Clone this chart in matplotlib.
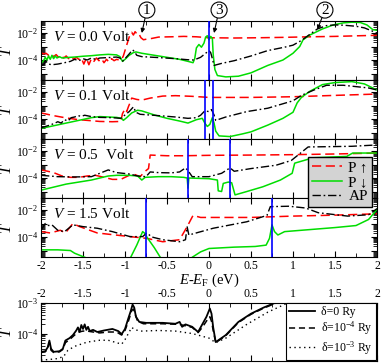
import numpy as np
import matplotlib
matplotlib.use('Agg')
import matplotlib.pyplot as plt
from matplotlib.ticker import LogLocator, FuncFormatter, NullFormatter, MultipleLocator

plt.rcParams['font.family'] = ['Liberation Serif', 'DejaVu Serif']
plt.rcParams['mathtext.fontset'] = 'custom'
plt.rcParams['mathtext.rm'] = 'Liberation Serif'
plt.rcParams['mathtext.it'] = 'Liberation Serif:italic'
plt.rcParams['axes.unicode_minus'] = False

# ---------------- data: (E - E_F [eV], log10 T) ----------------
biases = [0.0, 0.1, 0.5, 1.5]
bias_labels = ["$V$ = 0.0 Volt", "$V$ = 0.1 Volt", "$V$ = 0.5  Volt", "$V$ = 1.5 Volt"]

v00_up = [(-2.00,-3.45),(-1.97,-3.55),(-1.94,-3.50),(-1.91,-3.65),(-1.88,-3.55),(-1.85,-3.75),(-1.82,-3.60),
          (-1.79,-3.80),(-1.76,-3.65),(-1.73,-3.85),(-1.70,-3.70),(-1.67,-3.90),(-1.64,-3.75),(-1.61,-3.95),
          (-1.58,-3.80),(-1.55,-3.95),(-1.52,-3.85),(-1.49,-4.30),(-1.46,-3.85),(-1.43,-4.35),(-1.40,-3.90),
          (-1.37,-4.10),(-1.34,-3.85),(-1.31,-4.05),(-1.28,-3.90),(-1.25,-4.20),(-1.22,-3.95),(-1.19,-4.15),
          (-1.16,-3.90),(-1.13,-4.05),(-1.10,-3.95),(-1.07,-4.00),(-1.04,-3.95),(-1.02,-3.70),(-0.99,-3.10),
          (-0.96,-2.50),(-0.94,-2.10),(-0.92,-1.95),(-0.90,-2.15),(-0.88,-1.90),(-0.86,-2.05),(-0.84,-2.00),
          (-0.81,-2.35),(-0.78,-2.50),(-0.74,-2.45),(-0.68,-2.40),(-0.60,-2.30),(-0.45,-2.28),(-0.30,-2.25),
          (-0.15,-2.28),(0.00,-2.35),(0.30,-2.37),(0.60,-2.35),(0.90,-2.32),(1.20,-2.28),(1.50,-2.25),
          (1.80,-2.20),(2.00,-2.17)]
v00_dn = [(-2.00,-4.25),(-1.97,-4.05),(-1.95,-3.80),(-1.93,-4.00),(-1.91,-3.70),(-1.89,-3.95),(-1.87,-3.65),
          (-1.85,-3.90),(-1.83,-3.70),(-1.81,-3.85),(-1.78,-3.75),(-1.75,-3.85),(-1.70,-3.82),(-1.60,-3.78),
          (-1.50,-3.72),(-1.40,-3.68),(-1.30,-3.62),(-1.20,-3.58),(-1.10,-3.62),(-1.06,-3.75),(-1.03,-4.10),
          (-1.00,-3.95),(-0.95,-3.65),(-0.90,-3.45),(-0.87,-3.40),(-0.80,-3.50),(-0.65,-3.65),(-0.50,-3.80),
          (-0.35,-3.95),(-0.25,-4.10),(-0.19,-4.20),(-0.17,-3.90),(-0.15,-3.10),(-0.12,-2.85),(-0.09,-3.05),
          (-0.06,-2.75),(-0.04,-2.30),(-0.02,-2.20),(0.00,-2.50),(0.02,-2.25),(0.04,-2.40),(0.05,-3.60),
          (0.07,-4.70),(0.10,-5.15),(0.20,-5.25),(0.35,-5.20),(0.50,-4.95),(0.70,-4.40),(0.88,-4.00),
          (1.00,-3.50),(1.08,-3.00),(1.12,-2.50),(1.20,-2.15),(1.35,-1.70),(1.48,-1.40),(1.60,-1.25),
          (1.70,-1.20),(1.80,-1.22),(1.88,-1.40),(1.95,-1.75),(2.00,-1.80)]
v00_ap = [(-2.00,-4.40),(-1.97,-4.35),(-1.94,-4.10),(-1.91,-4.30),(-1.87,-4.35),(-1.80,-4.30),(-1.72,-4.20),
          (-1.65,-4.10),(-1.60,-3.95),(-1.55,-4.05),(-1.50,-3.90),(-1.45,-4.00),(-1.40,-3.85),(-1.35,-3.95),
          (-1.30,-3.85),(-1.20,-3.82),(-1.10,-3.78),(-1.06,-3.85),(-1.03,-4.10),(-1.00,-3.90),(-0.95,-3.55),
          (-0.91,-3.25),(-0.89,-3.35),(-0.86,-3.65),(-0.80,-3.75),(-0.60,-3.82),(-0.40,-3.90),(-0.25,-3.98),
          (-0.18,-4.00),(-0.10,-3.80),(-0.05,-3.55),(0.00,-3.30),(0.02,-3.45),(0.04,-3.90),(0.06,-4.40),
          (0.15,-4.25),(0.30,-4.05),(0.50,-3.70),(0.70,-3.30),(0.90,-3.05),(1.00,-2.90),(1.10,-2.55),
          (1.20,-2.10),(1.29,-1.70),(1.40,-1.45),(1.50,-1.40),(1.60,-1.42),(1.75,-1.50),(1.85,-1.62),(2.00,-2.00)]

v01_up = [(-2.00,-3.55),(-1.85,-3.75),(-1.70,-3.92),(-1.55,-4.05),(-1.45,-4.10),(-1.30,-4.18),(-1.15,-4.20),
          (-1.05,-4.18),(-1.03,-3.60),(-1.00,-3.25),(-0.98,-3.45),(-0.96,-3.10),(-0.94,-2.80),(-0.92,-2.45),
          (-0.89,-2.50),(-0.86,-2.55),(-0.80,-2.60),(-0.70,-2.45),(-0.55,-2.30),(-0.40,-2.27),(-0.20,-2.32),
          (0.00,-2.40),(0.50,-2.40),(1.00,-2.35),(1.50,-2.25),(2.00,-2.15)]
v01_dn = [(-2.00,-4.70),(-1.85,-4.50),(-1.70,-4.30),(-1.55,-4.10),(-1.40,-3.90),(-1.30,-3.82),(-1.20,-3.85),
          (-1.10,-3.88),(-1.04,-3.95),(-1.02,-4.10),(-0.98,-3.90),(-0.92,-3.55),(-0.85,-3.35),(-0.80,-3.40),
          (-0.65,-3.70),(-0.50,-3.95),(-0.35,-4.15),(-0.25,-4.30),(-0.15,-4.05),(-0.08,-3.95),(-0.05,-4.30),
          (-0.02,-4.55),(0.01,-4.40),(0.04,-3.90),(0.06,-4.30),(0.08,-4.90),(0.12,-5.25),(0.25,-5.30),
          (0.40,-5.10),(0.50,-4.95),(0.70,-4.45),(0.88,-3.95),(1.00,-3.50),(1.05,-2.80),(1.10,-2.40),
          (1.20,-1.95),(1.35,-1.45),(1.50,-1.30),(1.70,-1.23),(1.85,-1.40),(2.00,-1.85)]
v01_ap = [(-2.00,-4.65),(-1.92,-4.50),(-1.85,-4.35),(-1.80,-4.20),(-1.76,-4.30),(-1.72,-4.05),(-1.68,-4.15),
          (-1.64,-3.90),(-1.60,-3.85),(-1.56,-3.75),(-1.52,-3.80),(-1.48,-3.72),(-1.40,-3.82),(-1.30,-3.88),
          (-1.15,-3.90),(-1.05,-3.95),(-1.00,-3.70),(-0.95,-3.45),(-0.90,-3.10),(-0.87,-3.50),(-0.82,-3.65),
          (-0.60,-3.75),(-0.40,-3.85),(-0.25,-3.95),(-0.15,-3.90),(-0.10,-3.72),(-0.05,-3.40),(0.00,-3.45),
          (0.03,-3.30),(0.06,-3.70),(0.08,-4.10),(0.20,-3.85),(0.45,-3.45),(0.70,-3.20),(1.00,-2.65),
          (1.10,-2.25),(1.25,-1.85),(1.40,-1.50),(1.60,-1.50),(1.75,-1.60),(1.90,-1.70),(2.00,-1.85)]

v05_up = [(-2.00,-3.40),(-1.92,-3.50),(-1.85,-3.60),(-1.75,-3.85),(-1.65,-3.95),(-1.55,-3.95),(-1.45,-3.85),
          (-1.35,-3.80),(-1.25,-3.95),(-1.15,-4.10),(-1.05,-4.10),(-0.95,-3.80),(-0.88,-3.75),(-0.82,-3.90),
          (-0.76,-3.50),(-0.72,-3.30),(-0.70,-2.30),(-0.50,-2.35),(-0.30,-2.35),(0.00,-2.32),(0.50,-2.30),
          (1.00,-2.27),(1.50,-2.22),(2.00,-2.15)]
v05_dn = [(-2.00,-4.90),(-1.90,-4.75),(-1.80,-4.60),(-1.70,-4.45),(-1.55,-4.30),(-1.40,-4.15),(-1.30,-4.00),
          (-1.20,-3.85),(-1.10,-3.80),(-0.95,-3.80),(-0.85,-3.85),(-0.80,-4.15),(-0.76,-3.95),(-0.60,-3.90),
          (-0.45,-3.90),(-0.30,-3.95),(-0.26,-4.00),(-0.25,-4.75),(-0.24,-4.00),(0.00,-4.05),(0.10,-4.15),
          (0.11,-4.95),(0.15,-5.00),(0.17,-4.40),(0.23,-4.30),(0.27,-4.35),(0.31,-5.25),(0.45,-5.00),
          (0.64,-4.65),(0.85,-4.15),(0.99,-3.65),(1.02,-2.90),(1.24,-2.50),(1.64,-2.40),(1.71,-2.15),(2.00,-2.15)]
v05_ap = [(-2.00,-3.80),(-1.80,-3.90),(-1.60,-3.92),(-1.40,-3.90),(-1.30,-3.65),(-1.20,-3.40),(-1.10,-3.60),
          (-0.95,-3.70),(-0.85,-3.85),(-0.75,-3.90),(-0.70,-3.55),(-0.60,-3.60),(-0.45,-3.62),(-0.35,-3.55),
          (-0.28,-3.25),(-0.25,-3.45),(-0.20,-3.90),(0.00,-3.90),(0.15,-3.65),(0.25,-3.25),(0.30,-3.50),
          (0.50,-3.30),(0.80,-3.05),(0.98,-2.70),(1.10,-2.10),(1.18,-1.70),(1.40,-1.68),(1.70,-1.65),(2.00,-1.55)]

v15_up = [(-2.00,-3.60),(-1.89,-3.70),(-1.77,-3.50),(-1.71,-3.70),(-1.62,-3.00),(-1.54,-3.23),(-1.33,-3.70),
          (-0.94,-3.97),(-0.74,-4.10),(-0.55,-4.35),(-0.35,-4.20),(-0.26,-3.23),(-0.19,-2.40),(-0.10,-2.55),
          (0.50,-2.55),(1.00,-2.45),(1.50,-2.38),(2.00,-2.28)]
v15_dn = [(-2.00,-4.95),(-1.80,-4.95),(-1.65,-5.00),(-1.60,-5.20),(-1.50,-5.45),(-1.40,-5.70),(-1.10,-6.00),
          (-0.94,-5.60),(-0.86,-4.60),(-0.79,-3.60),(-0.76,-3.75),(-0.74,-4.00),(-0.65,-4.80),(-0.58,-5.50),
          (-0.45,-6.00),(-0.26,-6.00),(-0.20,-5.50),(-0.10,-5.10),(0.00,-4.85),(0.15,-4.80),(0.30,-4.75),
          (0.55,-4.70),(0.68,-4.60),(0.72,-4.10),(0.75,-3.10),(0.78,-3.60),(0.82,-3.85),(0.90,-3.60),
          (1.20,-3.45),(1.50,-3.30),(1.75,-3.15),(1.90,-2.70),(2.00,-1.95)]
v15_ap = [(-2.00,-3.50),(-1.95,-3.00),(-1.91,-3.15),(-1.87,-3.10),(-1.80,-3.50),(-1.72,-3.60),(-1.62,-3.10),
          (-1.50,-3.23),(-1.33,-3.35),(-1.15,-3.60),(-0.94,-3.97),(-0.79,-3.97),(-0.74,-3.70),(-0.68,-4.00),
          (-0.55,-4.20),(-0.35,-4.35),(-0.28,-4.20),(-0.26,-3.25),(-0.24,-3.85),(0.05,-3.35),(0.45,-2.87),
          (0.69,-2.40),(0.73,-1.75),(0.95,-1.72),(1.15,-1.85),(1.30,-2.20),(1.65,-2.45),(1.90,-2.35),(2.00,-1.90)]

b_d0 = [(-2.00,-4.60),(-1.95,-4.58),(-1.92,-4.45),(-1.90,-4.23),(-1.88,-4.50),(-1.85,-4.60),(-1.78,-4.58),
        (-1.74,-4.50),(-1.71,-4.23),(-1.66,-4.15),(-1.62,-4.05),(-1.58,-3.90),(-1.56,-3.80),(-1.54,-3.95),
        (-1.52,-3.72),(-1.50,-3.85),(-1.48,-3.70),(-1.46,-3.88),(-1.44,-3.78),(-1.42,-3.92),(-1.38,-3.88),
        (-1.33,-3.95),(-1.25,-3.90),(-1.15,-3.85),(-1.08,-3.92),(-1.04,-4.02),(-1.00,-3.85),(-0.96,-3.50),
        (-0.93,-3.25),(-0.91,-3.05),(-0.89,-3.15),(-0.87,-3.45),(-0.83,-3.62),(-0.75,-3.65),(-0.55,-3.65),
        (-0.40,-3.68),(-0.35,-3.62),(-0.32,-3.78),(-0.28,-3.70),(-0.20,-3.78),(-0.13,-3.95),(-0.08,-3.70),
        (-0.03,-3.45),(0.01,-3.18),(0.03,-3.35),(0.05,-3.80),(0.08,-4.28),(0.20,-4.05),(0.35,-3.62),
        (0.50,-3.35),(0.65,-3.15),(0.80,-2.98),(1.00,-2.80)]
b_d4 = [(-2.00,-4.62),(-1.95,-4.60),(-1.92,-4.50),(-1.90,-4.30),(-1.88,-4.55),(-1.85,-4.62),(-1.78,-4.60),
        (-1.74,-4.52),(-1.71,-4.30),(-1.66,-4.20),(-1.60,-4.05),(-1.55,-3.95),(-1.50,-3.92),(-1.45,-3.92),
        (-1.38,-3.95),(-1.30,-3.98),(-1.20,-3.95),(-1.10,-3.95),(-1.04,-4.05),(-1.00,-3.90),(-0.96,-3.60),
        (-0.92,-3.25),(-0.90,-3.20),(-0.88,-3.35),(-0.85,-3.60),(-0.78,-3.68),(-0.55,-3.68),(-0.35,-3.70),
        (-0.20,-3.80),(-0.13,-3.97),(-0.08,-3.80),(-0.02,-3.55),(0.01,-3.45),(0.03,-3.60),(0.05,-3.90),
        (0.08,-4.30),(0.20,-4.07),(0.35,-3.64),(0.50,-3.37),(0.65,-3.17),(0.80,-3.00),(1.00,-2.82)]
b_d3 = [(-2.00,-4.87),(-1.90,-4.85),(-1.80,-4.82),(-1.73,-4.75),(-1.68,-4.55),(-1.60,-4.42),(-1.45,-4.28),
        (-1.30,-4.22),(-1.20,-4.22),(-1.10,-4.30),(-1.04,-4.35),(-1.00,-4.20),(-0.95,-3.95),(-0.92,-3.80),
        (-0.88,-3.88),(-0.80,-3.92),(-0.60,-3.90),(-0.40,-3.92),(-0.20,-4.00),(0.00,-4.15),(0.08,-4.30),
        (0.20,-4.15),(0.45,-3.70),(0.70,-3.30),(0.92,-3.02),(1.10,-2.85)]

panels = [(v00_up, v00_dn, v00_ap), (v01_up, v01_dn, v01_ap),
          (v05_up, v05_dn, v05_ap), (v15_up, v15_dn, v15_ap)]
legend_labels = ["P \u2191", "P \u2193", "AP"]
bottom_labels = ["\u03b4=0 Ry", "\u03b4=10$^{-4}$ Ry", "\u03b4=10$^{-3}$ Ry"]


def curve(pairs):
    a = np.array(pairs)
    return a[:, 0], 10 ** a[:, 1]


# ---------------- figure ----------------
FW, FH = 382, 364
fig = plt.figure(figsize=(FW / 100, FH / 100), dpi=100)
L, W = 41 / FW, 336 / FW
tops = [21, 80, 139, 198]
axes = [fig.add_axes([L, 1 - (t + 59) / FH, W, 59 / FH]) for t in tops]
axb = fig.add_axes([L, 1 - 361 / FH, W, 58 / FH])

red, green, blue = '#ff0000', '#00dd00', '#0000ff'
styles = [dict(color=red, lw=1.1, dashes=(6, 3)),
          dict(color=green, lw=1.1),
          dict(color='k', lw=1.0, dashes=(6, 2, 1.2, 2))]


def even_fmt(v, pos):
    e = int(round(np.log10(v)))
    return r'10$^{%d}$' % e if e % 2 == 0 else ''


def fmt_x(v, pos):
    return '%g' % v


YLAB_X = -0.077

handles = []
for i, (ax, data) in enumerate(zip(axes, panels)):
    for pairs, st in zip(data, styles):
        x, y = curve(pairs)
        ln, = ax.plot(x, y, **st)
        if i == 0:
            handles.append(ln)
    V = biases[i]
    for xv in sorted({-V / 2, V / 2}):
        ax.axvline(xv, color=blue, lw=1.2, zorder=5)
    ax.set_yscale('log')
    ax.set_xlim(-2, 2)
    ax.set_ylim(10 ** -5.48, 10 ** -1.11)
    ax.yaxis.set_major_locator(LogLocator(base=10, numticks=20))
    ax.yaxis.set_minor_locator(LogLocator(base=10, subs=np.arange(2, 10), numticks=20))
    ax.yaxis.set_major_formatter(FuncFormatter(even_fmt))
    ax.yaxis.set_minor_formatter(NullFormatter())
    ax.xaxis.set_major_locator(MultipleLocator(0.5))
    ax.xaxis.set_minor_locator(MultipleLocator(0.25))
    ax.tick_params(which='both', direction='in', top=True, right=True, labelsize=8.5, pad=2)
    ax.tick_params(which='major', length=4)
    ax.tick_params(which='minor', length=3)
    if i < 3:
        ax.tick_params(axis='x', labelbottom=False)
    else:
        ax.xaxis.set_major_formatter(FuncFormatter(fmt_x))
        ax.set_xlabel('$E$-$E_\\mathrm{F}$ (eV)', fontsize=10.5, labelpad=0)
    ax.set_ylabel('$T$', fontsize=12, labelpad=0)
    ax.yaxis.set_label_coords(YLAB_X, 0.5)
    ax.text(0.035, 0.73, bias_labels[i], transform=ax.transAxes, fontsize=11,
            ha='left', va='center')

# circled markers
ax0 = axes[0]
circ = dict(boxstyle='circle,pad=0.1', fc='white', ec='k', lw=0.8)
arw = dict(arrowstyle='-|>', color='k', lw=0.8, mutation_scale=6, shrinkA=0, shrinkB=0)
for txt, xy, xt in [('1', (-0.80, 10 ** -2.0), (-0.74, 10 ** -0.3)),
                    ('3', (0.06, 10 ** -2.0), (0.12, 10 ** -0.3)),
                    ('2', (1.29, 10 ** -1.75), (1.38, 10 ** -0.3))]:
    ax0.annotate(txt, xy=xy, xytext=xt, ha='center', va='center', fontsize=11,
                 bbox=circ, arrowprops=arw, annotation_clip=False)

leg = fig.legend(handles, legend_labels, loc='upper left',
                 bbox_to_anchor=(308 / FW, 1 - 157 / FH), fontsize=11,
                 frameon=True, fancybox=False, facecolor='#d3d3d3', edgecolor='k',
                 framealpha=1, handlelength=2.0, handletextpad=0.4,
                 borderpad=0.25, labelspacing=0.05, borderaxespad=0)
leg.get_frame().set_linewidth(1.0)

# bottom panel
bstyles = [dict(color='k', lw=1.3), dict(color='k', lw=1.1, dashes=(4, 2.5)),
           dict(color='k', lw=1.0, dashes=(1, 2.5))]
for pairs, st, lab in zip([b_d0, b_d4, b_d3], bstyles, bottom_labels):
    x, y = curve(pairs)
    axb.plot(x, y, label=lab, **st)
axb.set_yscale('log')
axb.set_xlim(-2, 2)
axb.set_ylim(10 ** -4.9, 10 ** -3)
axb.yaxis.set_major_locator(LogLocator(base=10, numticks=20))
axb.yaxis.set_minor_locator(LogLocator(base=10, subs=np.arange(2, 10), numticks=20))
axb.yaxis.set_major_formatter(FuncFormatter(lambda v, p: r'10$^{%d}$' % int(round(np.log10(v)))))
axb.yaxis.set_minor_formatter(NullFormatter())
axb.xaxis.set_major_locator(MultipleLocator(0.5))
axb.xaxis.set_minor_locator(MultipleLocator(0.25))
axb.xaxis.set_major_formatter(FuncFormatter(fmt_x))
axb.tick_params(which='both', direction='in', top=True, right=True, labelsize=8.5, pad=2,
                labeltop=True, labelbottom=False)
axb.tick_params(which='major', length=4)
axb.tick_params(which='minor', length=3)
axb.set_ylabel('$T$', fontsize=12, labelpad=0)
axb.yaxis.set_label_coords(YLAB_X, 0.5)
lb = axb.legend(loc='lower right', fontsize=8.5, fancybox=False, edgecolor='k', framealpha=1,
                borderaxespad=0.05, handlelength=2.2, labelspacing=0.15, borderpad=0.3,
                handletextpad=0.5)
lb.get_frame().set_linewidth(0.8)

fig.savefig('out.png', dpi=100)
